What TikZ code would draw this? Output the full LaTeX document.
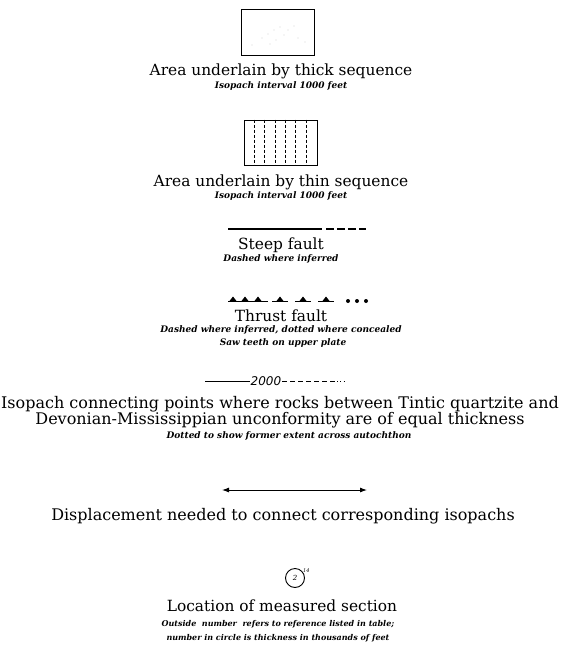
\documentclass[tikz,border=0pt]{standalone}
\usepackage{fontspec}
\setmainfont{DejaVu Serif}
\newfontfamily\isofont{DejaVu Sans}
\usetikzlibrary{positioning, arrows.meta}

\tikzset{
  heading/.style={font=\fontsize{15.4}{16}\selectfont, inner sep=0pt, align=center},
  wideheading/.style={heading, font=\fontsize{16}{16}\selectfont},
  remark/.style={font=\fontsize{9}{14}\selectfont\bfseries\itshape, inner sep=0pt, align=center},
  fault/.style={line width=1.5pt},
  tooth/.style={fill=black, draw=none},
}

\begin{document}
\begin{tikzpicture}[x=1pt,y=-1pt]
  \useasboundingbox (0,0) rectangle (563,656);

  % Thick sequence
  \node[draw, line width=0.9pt, minimum width=73pt, minimum height=46pt] (thick) at (278,32) {};
  \foreach \px/\py in {262/38, 268/34, 270/44, 274/30, 276/40, 280/27, 284/35, 288/30, 294/26, 298/38, 305/42, 252/45}
    \fill[gray] (\px,\py) circle (0.4pt);
  \node[heading] (thicklbl) at (281,71) {Area underlain by thick sequence};
  \node[remark] (thicknote) at (281,86) {Isopach interval 1000 feet};

  % Thin sequence
  \node[draw, line width=0.9pt, minimum width=73pt, minimum height=45pt] (thin) at (280.5,142.5) {};
  \foreach \i in {1,...,6}
    \draw[line width=0.5pt, densely dashed] ([xshift=\i*10.4pt]thin.north west) -- ([xshift=\i*10.4pt]thin.south west);
  \node[heading] (thinlbl) at (281,182) {Area underlain by thin sequence};
  \node[remark] (thinnote) at (281,196) {Isopach interval 1000 feet};

  % Steep fault
  \draw[fault] (228,229) -- (322,229);
  \draw[fault, dash pattern=on 8pt off 3pt] (326,229) -- (366,229);
  \node[heading] (steep) at (281,245) {Steep fault};
  \node[remark] (steepnote) at (281,259) {Dashed where inferred};

  % Thrust fault
  \draw[line width=1pt] (228,301) -- (268,301);
  \foreach \tx in {280,303,326}
    \draw[line width=1pt] (\tx-8,301) -- (\tx+8,301);
  \foreach \tx in {233,245,258,280,303,326}
    \fill[tooth] (\tx-3.5,301) -- (\tx,296.5) -- (\tx+3.5,301) -- cycle;
  \foreach \dx in {348,357,366}
    \fill (\dx,301) circle (2pt);
  \node[heading] (thrust) at (281,316) {Thrust fault};
  \node[remark] (thrustnote) at (281,330) {Dashed where inferred, dotted where concealed};
  \node[remark] (sawnote) at (283,343) {Saw teeth on upper plate};

  % Isopach
  \node[font=\fontsize{12}{13}\selectfont\isofont\itshape, inner sep=1pt] (iso) at (266,381) {2000};
  \coordinate (isoL) at (205,381);
  \coordinate (isoR) at (334,381);
  \coordinate (isoE) at (346,381);
  \draw[line width=0.6pt] (isoL) -- (iso.west);
  \draw[line width=0.6pt, dash pattern=on 5pt off 3pt] (iso.east) -- (isoR);
  \draw[line width=0.6pt, dash pattern=on 0.8pt off 2.4pt] (isoR) -- (isoE);
  \node[wideheading] (isolbl) at (280,412) {Isopach connecting points where rocks between Tintic quartzite and\\Devonian-Mississippian unconformity are of equal thickness};
  \node[remark] (isonote) at (289,436) {Dotted to show former extent across autochthon};

  % Displacement
  \coordinate (dispL) at (222,490);
  \coordinate (dispR) at (367,490);
  \draw[line width=0.9pt, {Latex[length=7pt,width=5pt]}-{Latex[length=7pt,width=5pt]}] (dispL) -- (dispR);
  \node[wideheading] (displbl) at (283,516) {Displacement needed to connect corresponding isopachs};

  % Measured section
  \node[draw, circle, line width=0.9pt, minimum size=19pt, inner sep=0pt, font=\fontsize{7}{8}\selectfont\itshape] (section) at (295,578) {2};
  \node[font=\fontsize{5}{6}\selectfont\itshape, inner sep=0pt, above right=-2pt and 1pt of section] (sectionref) {14};
  \node[heading] (sectionlbl) at (282,606) {Location of measured section};
  \node[remark, font=\fontsize{8}{14}\selectfont\bfseries\itshape] (sectionnote) at (278,631) {Outside\ \ number\ \ refers to reference listed in table;\\number in circle is thickness in thousands of feet};
\end{tikzpicture}
\end{document}
